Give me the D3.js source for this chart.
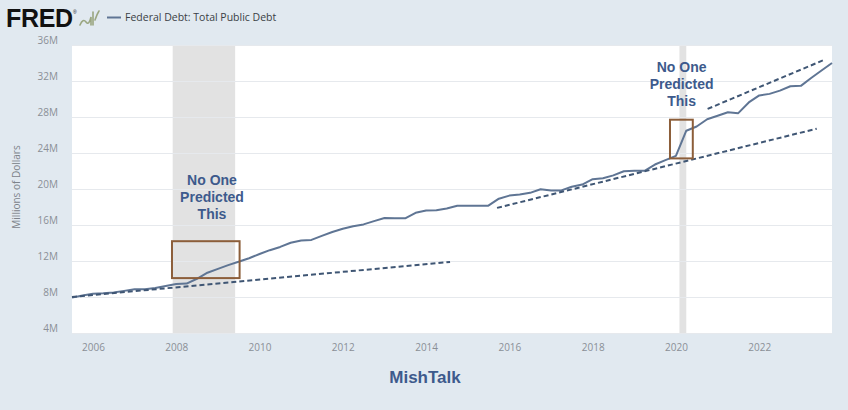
<!DOCTYPE html>
<html>
<head>
<meta charset="utf-8">
<script src="https://cdn.jsdelivr.net/npm/d3@7"></script>
<style>
  html, body { margin: 0; padding: 0; background: #e1e9f0; }
  svg { display: block; }
</style>
</head>
<body>
<svg id="chart" width="848" height="410"></svg>
<script>
// ---------- DATA ----------
// Quarterly dates (FRED quarter-start) and Federal Debt: Total Public Debt, millions of dollars
const quarters = [
  "2005-07-01","2005-10-01",
  "2006-01-01","2006-04-01","2006-07-01","2006-10-01",
  "2007-01-01","2007-04-01","2007-07-01","2007-10-01",
  "2008-01-01","2008-04-01","2008-07-01","2008-10-01",
  "2009-01-01","2009-04-01","2009-07-01","2009-10-01",
  "2010-01-01","2010-04-01","2010-07-01","2010-10-01",
  "2011-01-01","2011-04-01","2011-07-01","2011-10-01",
  "2012-01-01","2012-04-01","2012-07-01","2012-10-01",
  "2013-01-01","2013-04-01","2013-07-01","2013-10-01",
  "2014-01-01","2014-04-01","2014-07-01","2014-10-01",
  "2015-01-01","2015-04-01","2015-07-01","2015-10-01",
  "2016-01-01","2016-04-01","2016-07-01","2016-10-01",
  "2017-01-01","2017-04-01","2017-07-01","2017-10-01",
  "2018-01-01","2018-04-01","2018-07-01","2018-10-01",
  "2019-01-01","2019-04-01","2019-07-01","2019-10-01",
  "2020-01-01","2020-04-01","2020-07-01","2020-10-01",
  "2021-01-01","2021-04-01","2021-07-01","2021-10-01",
  "2022-01-01","2022-04-01","2022-07-01","2022-10-01",
  "2023-01-01","2023-04-01","2023-07-01","2023-10-01"
];
const debtValues = [
  7932710, 8170413,
  8371156, 8420042, 8507024, 8680224,
  8849665, 8867673, 9007653, 9229172,
  9437594, 9492006, 10024725, 10699805,
  11126941, 11545275, 11909829, 12311350,
  12773123, 13201790, 13561623, 14025215,
  14270114, 14343088, 14790340, 15222940,
  15582079, 15855530, 16066241, 16432730,
  16771389, 16738184, 16738184, 17351971,
  17601227, 17632606, 17824071, 18141444,
  18152056, 18151998, 18150618, 18922179,
  19264939, 19381591, 19573445, 19976827,
  19846420, 19844554, 20244900, 20492874,
  21089643, 21195070, 21516058, 21974096,
  22027880, 22023283, 22719402, 23201380,
  23687113, 26477240, 26945391, 27747798,
  28132570, 28529436, 28428919, 29617215,
  30400960, 30568582, 30928912, 31419689,
  31458438, 32332274, 33167334, 34001494
];

// Axis
const xDomain = ["2005-07-01", "2023-10-01"];
const xTickYears = [2006, 2008, 2010, 2012, 2014, 2016, 2018, 2020, 2022];
const yTicks = [4e6, 8e6, 12e6, 16e6, 20e6, 24e6, 28e6, 32e6, 36e6];
const yTickLabels = ["4M", "8M", "12M", "16M", "20M", "24M", "28M", "32M", "36M"];

// Recessions (shaded)
const recessionStarts = ["2007-12-01", "2020-02-01"];
const recessionEnds = ["2009-06-01", "2020-04-01"];

// Dashed trend lines: [startDate, startValue, endDate, endValue]
const trendStartDates = ["2005-07-01", "2015-09-15", "2020-10-05"];
const trendStartValues = [8.0e6, 17.9e6, 28.9e6];
const trendEndDates = ["2014-07-30", "2023-05-20", "2023-07-15"];
const trendEndValues = [11.9e6, 26.7e6, 34.3e6];

// Annotation boxes (date range and value range)
const boxStartDates = ["2007-11-25", "2019-11-10"];
const boxEndDates = ["2009-07-10", "2020-05-28"];
const boxLowValues = [10.1e6, 23.4e6];
const boxHighValues = [14.2e6, 27.7e6];

// Annotation texts
const noteLines = ["No One", "Predicted", "This"];
const noteDates = ["2008-11-10", "2020-02-20"];
const noteTopValues = [20.4e6, 33.0e6];

const legendLabel = "Federal Debt: Total Public Debt";
const yAxisTitle = "Millions of Dollars";
const footerLabel = "MishTalk";

// ---------- DRAW ----------
const parse = d3.timeParse("%Y-%m-%d");
const series = quarters.map((q, i) => ({ date: parse(q), value: debtValues[i] }));

const svg = d3.select("#chart");
const W = 848, H = 410;
const plot = { left: 72, right: 832, top: 45, bottom: 333 };

svg.append("rect").attr("width", W).attr("height", H).attr("fill", "#e1e9f0");

const x = d3.scaleTime().domain(xDomain.map(parse)).range([plot.left, plot.right]);
const y = d3.scaleLinear().domain([4e6, 36e6]).range([plot.bottom, plot.top]);

// plot background
svg.append("rect")
  .attr("x", plot.left).attr("y", plot.top)
  .attr("width", plot.right - plot.left).attr("height", plot.bottom - plot.top)
  .attr("fill", "#ffffff");

// recession shading
svg.append("g").selectAll("rect")
  .data(recessionStarts.map((s, i) => ({ s: parse(s), e: parse(recessionEnds[i]) })))
  .join("rect")
  .attr("x", d => x(d.s))
  .attr("width", d => x(d.e) - x(d.s))
  .attr("y", plot.top)
  .attr("height", plot.bottom - plot.top)
  .attr("fill", "#e2e2e2");

// grid lines
svg.append("g").selectAll("line")
  .data(yTicks)
  .join("line")
  .attr("x1", plot.left).attr("x2", plot.right)
  .attr("y1", d => Math.round(y(d)) + 0.5).attr("y2", d => Math.round(y(d)) + 0.5)
  .attr("stroke", "#e6e9ed").attr("stroke-width", 1);

// y axis labels
const yAxis = d3.axisLeft(y).tickValues(yTicks)
  .tickFormat((d, i) => yTickLabels[i]).tickSize(0).tickPadding(14);
const gy = svg.append("g").attr("transform", `translate(${plot.left},-5)`).call(yAxis);
gy.select(".domain").remove();
gy.selectAll("text")
  .attr("fill", "#8a8f96")
  .style("font-family", "'Open Sans', 'Liberation Sans', sans-serif")
  .style("font-size", "10px");

// x axis labels
const xAxis = d3.axisBottom(x)
  .tickValues(xTickYears.map(yr => new Date(yr, 0, 1)))
  .tickFormat(d3.timeFormat("%Y")).tickSize(0).tickPadding(11);
const gx = svg.append("g").attr("transform", `translate(0,${plot.bottom})`).call(xAxis);
gx.select(".domain").remove();
gx.selectAll("text")
  .attr("fill", "#8a8f96")
  .style("font-family", "'Open Sans', 'Liberation Sans', sans-serif")
  .style("font-size", "10px");

// y axis title
svg.append("text")
  .attr("transform", `translate(20,${(plot.top + plot.bottom) / 2 - 2}) rotate(-90)`)
  .attr("text-anchor", "middle")
  .attr("fill", "#7d838a")
  .style("font-family", "'Open Sans', 'Liberation Sans', sans-serif")
  .style("font-size", "10px")
  .text(yAxisTitle);

// data line
const line = d3.line().x(d => x(d.date)).y(d => y(d.value));
svg.append("path")
  .datum(series)
  .attr("fill", "none")
  .attr("stroke", "#5f7594")
  .attr("stroke-width", 2)
  .attr("stroke-linejoin", "round")
  .attr("d", line);

// dashed trend lines
svg.append("g").selectAll("line")
  .data(trendStartDates.map((s, i) => ({
    x1: parse(s), y1: trendStartValues[i], x2: parse(trendEndDates[i]), y2: trendEndValues[i]
  })))
  .join("line")
  .attr("x1", d => x(d.x1)).attr("y1", d => y(d.y1))
  .attr("x2", d => x(d.x2)).attr("y2", d => y(d.y2))
  .attr("stroke", "#3f5674")
  .attr("stroke-width", 2)
  .attr("stroke-dasharray", "5,3");

// annotation boxes
svg.append("g").selectAll("rect")
  .data(boxStartDates.map((s, i) => ({
    s: parse(s), e: parse(boxEndDates[i]), lo: boxLowValues[i], hi: boxHighValues[i]
  })))
  .join("rect")
  .attr("x", d => x(d.s)).attr("y", d => y(d.hi))
  .attr("width", d => x(d.e) - x(d.s))
  .attr("height", d => y(d.lo) - y(d.hi))
  .attr("fill", "none")
  .attr("stroke", "#8c5e3a")
  .attr("stroke-width", 2);

// annotation text
noteDates.forEach((nd, i) => {
  const t = svg.append("text")
    .attr("x", x(parse(nd)))
    .attr("y", y(noteTopValues[i]))
    .attr("text-anchor", "middle")
    .attr("fill", "#3d5a8c")
    .style("font-family", "'Liberation Sans', Arial, sans-serif")
    .style("font-weight", "bold")
    .style("font-size", "14px");
  noteLines.forEach((ln, j) => {
    t.append("tspan").attr("x", x(parse(nd))).attr("dy", j === 0 ? 0 : 16.8).text(ln);
  });
});

// FRED logo
svg.append("text")
  .attr("x", 6).attr("y", 27)
  .attr("fill", "#111")
  .style("font-family", "'Liberation Sans', Arial, sans-serif")
  .style("font-weight", "900")
  .style("font-size", "25px")
  .style("letter-spacing", "-0.3px")
  .text("FRED");
svg.append("text")
  .attr("x", 73).attr("y", 14)
  .attr("fill", "#111")
  .style("font-family", "'Liberation Sans', Arial, sans-serif")
  .style("font-size", "5px")
  .text("®");
// small chart icon
svg.append("path")
  .attr("d", "M80,25 Q83,18 86,22 T91,17 L91,25 M93,25 L93,12 M95,20 Q97,14 99,11")
  .attr("fill", "none")
  .attr("stroke", "#9aa680")
  .attr("stroke-width", 1.6)
  .attr("stroke-linecap", "round");

// legend
svg.append("line")
  .attr("x1", 107).attr("x2", 121).attr("y1", 17.5).attr("y2", 17.5)
  .attr("stroke", "#5f7594").attr("stroke-width", 2);
svg.append("text")
  .attr("x", 125).attr("y", 21)
  .attr("fill", "#3a3f45")
  .style("font-family", "'Open Sans', 'Liberation Sans', sans-serif")
  .style("font-size", "10.5px")
  .text(legendLabel);

// footer
svg.append("text")
  .attr("x", 425).attr("y", 383)
  .attr("text-anchor", "middle")
  .attr("fill", "#3d5a8c")
  .style("font-family", "'Liberation Sans', Arial, sans-serif")
  .style("font-weight", "bold")
  .style("font-size", "17px")
  .text(footerLabel);
</script>
</body>
</html>
